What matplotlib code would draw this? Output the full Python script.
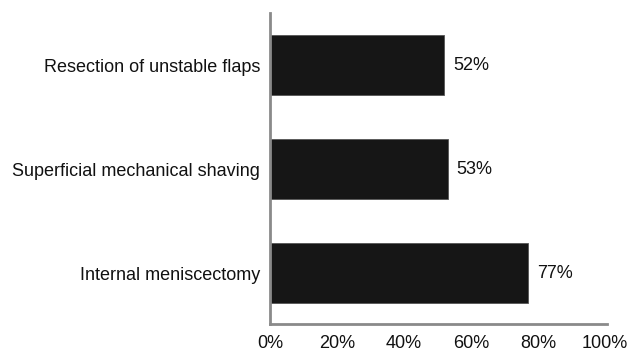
import matplotlib
matplotlib.use("Agg")
import matplotlib.pyplot as plt

categories = ["Internal meniscectomy", "Superficial mechanical shaving", "Resection of unstable flaps"]
values = [77, 53, 52]
xticks = [0, 20, 40, 60, 80, 100]
xtick_labels = ["0%", "20%", "40%", "60%", "80%", "100%"]

plt.rcParams['font.family'] = ['Liberation Sans', 'DejaVu Sans']

fig = plt.figure(figsize=(6.3, 3.52), dpi=100)
ax = fig.add_axes([270/630, 1 - 324/352, 335/630, (324 - 13)/352])

y = list(range(len(categories)))
ax.barh(y, values, height=0.57, color="#161616", edgecolor="#555555", linewidth=0.6)
for yi, v in zip(y, values):
    ax.text(v + 2.7, yi, f"{v}%", va="center", ha="left", fontsize=13, color="#111111")

ax.set_xlim(0, 100)
ax.set_ylim(-0.49, 2.5)
ax.set_yticks(y)
ax.set_yticklabels(categories, fontsize=13, color="#111111")
ax.set_xticks(xticks)
ax.set_xticklabels(xtick_labels, fontsize=13, color="#111111")
ax.tick_params(axis="both", length=0)
ax.tick_params(axis="y", pad=7)
ax.tick_params(axis="x", pad=8)
for s in ["top", "right"]:
    ax.spines[s].set_visible(False)
for s in ["left", "bottom"]:
    ax.spines[s].set_color("#8a8a8a")
    ax.spines[s].set_linewidth(2)
ax.spines["bottom"].set_bounds(0, 100.6)

fig.savefig("out.png", dpi=100)
